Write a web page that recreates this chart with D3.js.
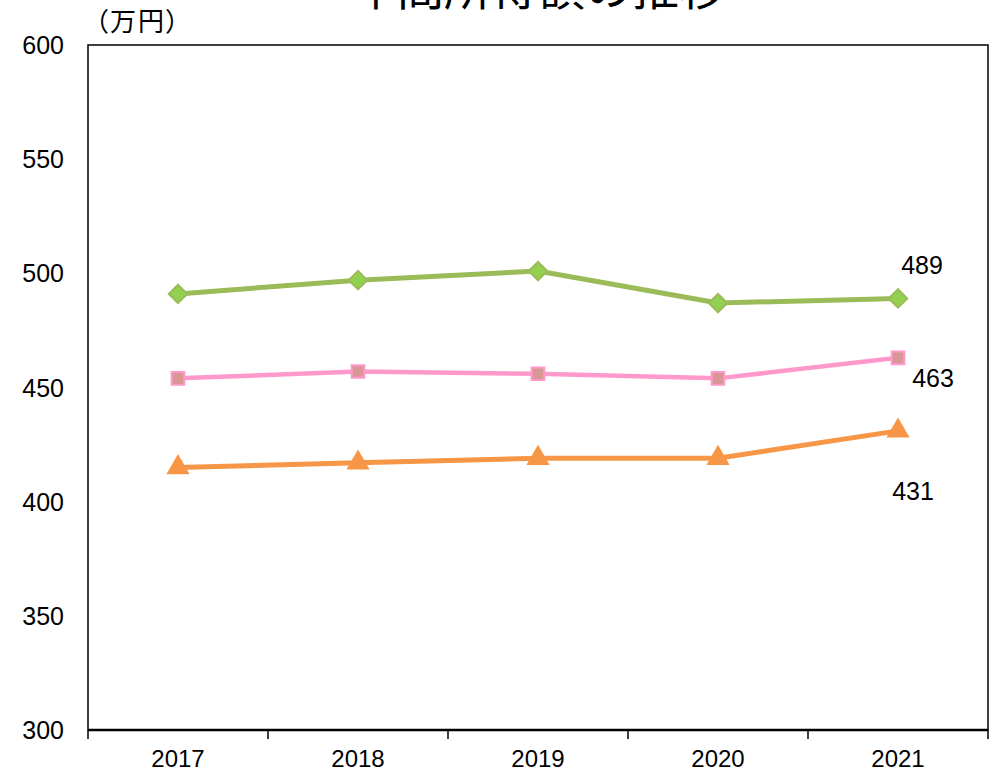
<!DOCTYPE html>
<html>
<head>
<meta charset="utf-8">
<script src="https://cdn.jsdelivr.net/npm/d3@7"></script>
<style>
  body { margin: 0; background: #fff; }
  svg { display: block; font-family: "Liberation Sans", Arial, sans-serif; }
</style>
</head>
<body>
<div id="chart"></div>
<script>
const years = ["2017", "2018", "2019", "2020", "2021"];
const greenVals = [491, 497, 501, 487, 489];
const pinkVals = [454, 457, 456, 454, 463];
const orangeVals = [415, 417, 419, 419, 431];
const yTicks = [300, 350, 400, 450, 500, 550, 600];

const W = 995, H = 772;
const margin = { top: 45, right: 7, bottom: 42, left: 88 };
const width = W - margin.left - margin.right,
      height = H - margin.top - margin.bottom;

const svg = d3.select("#chart").append("svg")
    .attr("width", W).attr("height", H);

// Title (partly cut off at top, as in the original)
svg.append("text")
    .attr("x", 538).attr("y", 5)
    .attr("text-anchor", "middle")
    .style("font-family", "'Noto Sans CJK JP', sans-serif")
    .style("font-size", "47px")
    .text("年間所得額の推移");

svg.append("text")
    .attr("x", 95).attr("y", 31)
    .style("font-family", "'Noto Sans CJK JP', sans-serif")
    .style("font-feature-settings", "'palt'")
    .style("letter-spacing", "2px")
    .style("font-size", "26px")
    .text("（万円）");

const g = svg.append("g").attr("transform", `translate(${margin.left},${margin.top})`);

const x = d3.scaleBand().domain(years).range([0, width]);
const y = d3.scaleLinear().domain([300, 600]).range([height, 0]);

// frame
g.append("rect")
    .attr("x", 0).attr("y", 0)
    .attr("width", width).attr("height", height)
    .attr("fill", "none").attr("stroke", "#000").attr("stroke-width", 1.5);

// y labels
g.selectAll(".ylab").data(yTicks).join("text")
    .attr("class", "ylab")
    .attr("x", -24).attr("y", d => y(d))
    .attr("dy", "0.36em")
    .attr("text-anchor", "end")
    .style("font-size", "25px")
    .text(d => d);

// x axis
const xAxis = g.append("g").attr("transform", `translate(0,${height})`);
xAxis.append("line").attr("x1", 0).attr("x2", width)
    .attr("stroke", "#000").attr("stroke-width", 2.5);
const tickPos = years.map(d => x(d)).concat([width]);
xAxis.selectAll(".tk").data(tickPos).join("line")
    .attr("x1", d => d).attr("x2", d => d)
    .attr("y1", 0).attr("y2", 9)
    .attr("stroke", "#000").attr("stroke-width", 1.5);
xAxis.selectAll(".xlab").data(years).join("text")
    .attr("x", d => x(d) + x.bandwidth() / 2)
    .attr("y", 37)
    .attr("text-anchor", "middle")
    .style("font-size", "24px")
    .text(d => d);

const cx = d => x(d) + x.bandwidth() / 2;

const series = [
  { vals: greenVals, line: "#9BBB59", fill: "#92D050", stroke: "#9BBB59", sym: d3.symbolSquare, rot: 45, size: 170, lw: 5 },
  { vals: pinkVals, line: "#FF99CC", fill: "#D99694", stroke: "#FF99CC", sym: d3.symbolSquare, rot: 0, size: 160, lw: 4.5 },
  { vals: orangeVals, line: "#F79646", fill: "#F79646", stroke: "#F79646", sym: d3.symbolTriangle, rot: 0, size: 170, lw: 5 }
];

const line = d3.line().x((d, i) => cx(years[i])).y(d => y(d));

series.forEach(s => {
  g.append("path")
      .datum(s.vals)
      .attr("d", line)
      .attr("fill", "none")
      .attr("stroke", s.line)
      .attr("stroke-width", s.lw)
      .attr("stroke-linejoin", "round");
  g.selectAll(null).data(s.vals).join("path")
      .attr("transform", (d, i) => `translate(${cx(years[i])},${y(d)}) rotate(${s.rot})`)
      .attr("d", d3.symbol().type(s.sym).size(s.size))
      .attr("fill", s.fill)
      .attr("stroke", s.stroke)
      .attr("stroke-width", 2);
});

// end labels
const last = years.length - 1;
const endLabels = [
  { v: greenVals[last], dx: 24, dy: -33 },
  { v: pinkVals[last], dx: 35, dy: 20 },
  { v: orangeVals[last], dx: 15, dy: 60 }
];
g.selectAll(".endlab").data(endLabels).join("text")
    .attr("x", d => cx(years[last]) + d.dx)
    .attr("y", d => y(d.v) + d.dy)
    .attr("dy", "0.36em")
    .attr("text-anchor", "middle")
    .style("font-size", "25px")
    .text(d => d.v);
</script>
</body>
</html>
